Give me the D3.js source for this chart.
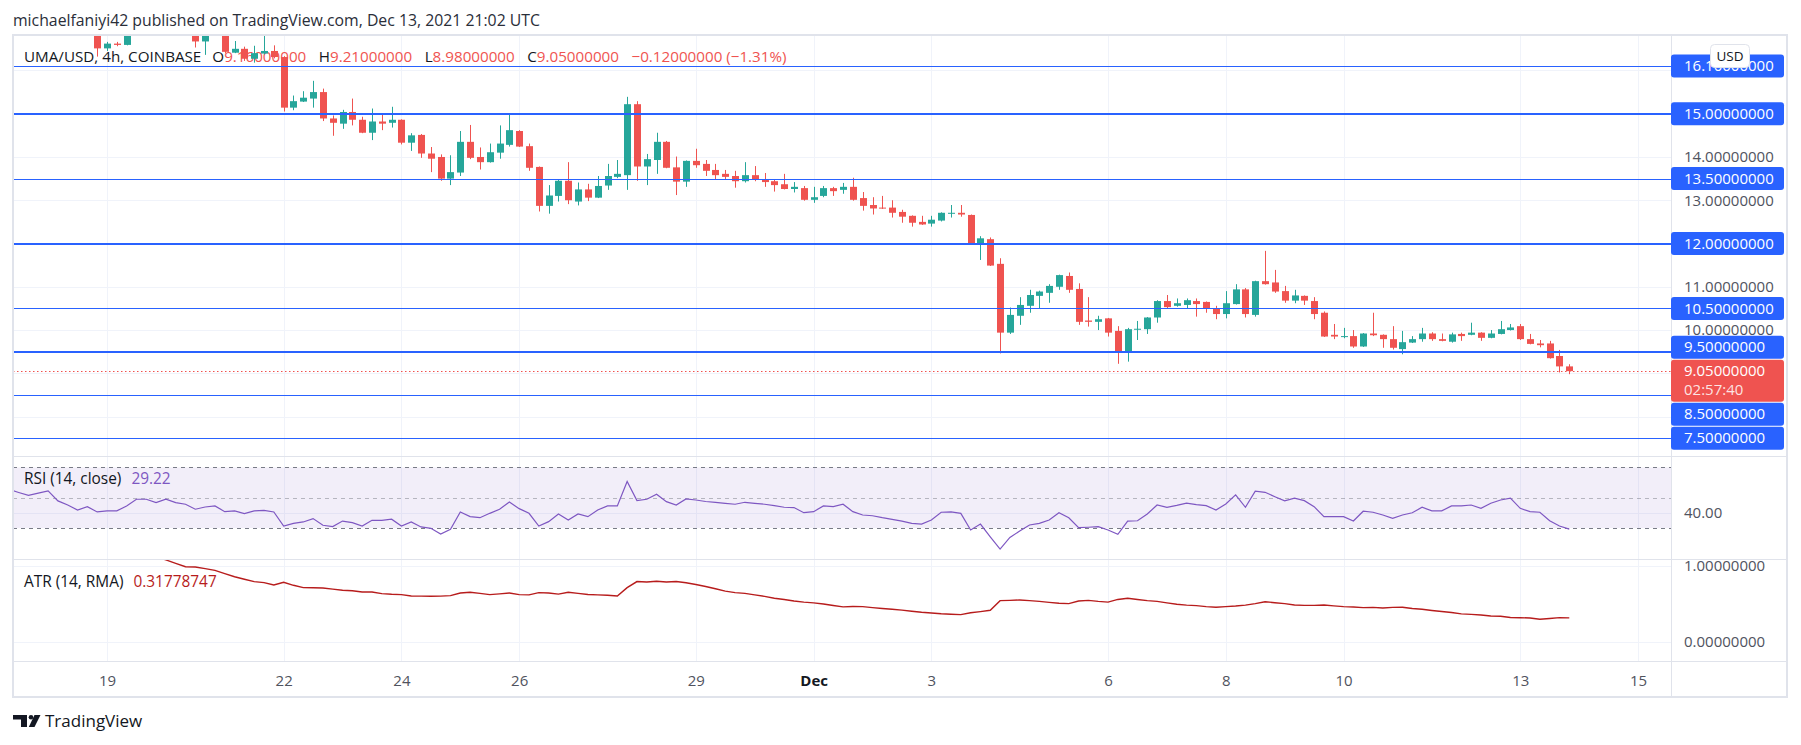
<!DOCTYPE html>
<html><head><meta charset="utf-8">
<script src="https://cdn.jsdelivr.net/npm/d3@7"></script>
<style>
html,body{margin:0;padding:0;background:#fff;}
svg{display:block;font-family:"Open Sans","Noto Sans",sans-serif;}
</style></head><body>
<svg id="c" width="1801" height="745"></svg>
<script>
// ---------------- DATA ----------------
const candleStart = "2021-11-18T20:00:00Z"; // 4h candles
const opens = [
16.85,16.51,16.62,16.59,16.85,17.05,17.00,16.95,17.05,16.95,
16.90,16.67,16.88,16.90,16.41,16.50,16.27,16.39,16.45,16.31,
15.14,15.28,15.35,15.50,14.89,14.77,15.04,14.86,14.56,14.82,
14.79,14.86,14.33,14.51,14.08,14.00,13.50,13.64,14.35,14.00,
13.88,14.10,14.28,14.60,14.25,13.77,12.87,13.10,13.45,12.97,
13.25,13.06,13.34,13.54,13.58,15.22,13.78,13.93,14.35,13.76,
13.43,13.91,13.84,13.70,13.61,13.56,13.44,13.58,13.49,13.44,
13.37,13.26,13.28,13.01,13.10,13.28,13.24,13.31,13.05,12.89,
12.83,12.83,12.73,12.64,12.50,12.46,12.53,12.69,12.71,12.66,
11.97,12.10,11.53,9.94,10.33,10.56,10.79,10.86,11.00,11.25,
10.95,10.22,10.19,10.27,9.98,9.50,10.01,10.02,10.29,10.67,
10.56,10.58,10.67,10.65,10.50,10.37,10.60,10.94,10.35,11.13,
11.10,10.90,10.68,10.79,10.67,10.40,9.89,9.84,9.86,9.62,
9.92,9.89,9.79,9.56,9.71,9.79,9.92,9.79,9.73,9.91,
9.89,9.94,9.82,9.91,10.00,10.09,9.79,9.69,9.69,9.40,
9.16];
const highs = [
16.95,16.66,16.66,16.90,17.15,17.20,17.10,17.15,17.10,17.05,
16.95,16.95,17.00,16.95,16.68,16.55,16.57,16.85,16.58,16.33,
15.42,15.52,15.76,15.58,14.96,15.09,15.35,14.93,15.12,15.00,
15.16,14.87,14.55,14.53,14.23,14.06,14.04,14.60,14.74,14.22,
14.31,14.73,15.00,14.62,14.31,13.78,13.35,13.48,13.88,13.41,
13.38,13.56,13.84,13.93,15.39,15.29,14.07,14.56,14.37,14.01,
13.92,14.19,13.93,13.84,13.70,13.68,13.88,13.79,13.63,13.49,
13.61,13.42,13.33,13.31,13.33,13.31,13.40,13.52,13.19,13.07,
13.10,13.00,12.78,12.65,12.64,12.64,12.72,12.89,12.89,12.67,
12.17,12.14,11.66,10.52,10.76,10.93,10.91,11.06,11.28,11.33,
11.08,10.76,10.33,10.28,10.09,10.05,10.21,10.30,10.69,10.81,
10.73,10.73,10.73,10.66,10.56,10.90,11.06,10.97,11.14,11.83,
11.39,11.02,10.93,10.80,10.76,10.43,10.14,10.05,10.00,9.93,
10.40,9.90,10.09,9.98,9.86,10.05,9.95,9.92,9.94,9.94,
10.17,9.95,10.00,10.21,10.14,10.14,9.91,9.77,9.75,9.54,
9.21];
const lows = [
16.32,16.45,16.56,16.58,16.82,16.90,16.85,16.88,16.85,16.82,
16.53,16.36,16.80,16.40,16.40,16.22,16.18,16.37,16.28,15.05,
15.08,15.27,15.14,14.83,14.49,14.65,14.73,14.55,14.39,14.62,
14.68,14.29,14.14,13.98,13.65,13.45,13.35,13.56,13.95,13.71,
13.87,13.96,14.24,14.23,13.68,12.74,12.69,12.97,12.91,12.88,
12.98,13.05,13.24,13.51,13.24,13.45,13.35,13.61,13.74,13.12,
13.31,13.75,13.56,13.49,13.49,13.29,13.41,13.44,13.31,13.20,
13.25,13.18,12.99,12.94,13.07,13.10,13.15,12.99,12.76,12.67,
12.80,12.60,12.48,12.39,12.43,12.39,12.51,12.60,12.62,11.98,
11.62,11.48,9.46,9.91,10.12,10.40,10.50,10.63,10.93,10.86,
10.12,10.08,10.00,9.85,9.22,9.27,9.77,9.91,10.17,10.50,
10.54,10.50,10.31,10.40,10.25,10.27,10.59,10.29,10.31,11.05,
10.86,10.63,10.62,10.58,10.25,9.84,9.79,9.81,9.59,9.61,
9.86,9.59,9.55,9.44,9.70,9.73,9.75,9.74,9.71,9.75,
9.88,9.75,9.81,9.90,9.99,9.77,9.67,9.60,9.34,9.02,
8.98];
const closes = [
16.51,16.62,16.59,16.85,17.05,17.00,16.95,17.05,16.95,16.90,
16.67,16.88,16.90,16.43,16.50,16.27,16.40,16.45,16.31,15.14,
15.29,15.37,15.50,14.89,14.79,15.04,14.86,14.56,14.82,14.77,
14.86,14.33,14.50,14.08,13.96,13.50,13.65,14.35,13.98,13.88,
14.11,14.31,14.62,14.24,13.75,12.87,13.11,13.45,13.00,13.25,
13.06,13.33,13.56,13.61,15.22,13.78,13.95,14.35,13.75,13.43,
13.91,13.81,13.68,13.58,13.54,13.44,13.58,13.49,13.42,13.35,
13.26,13.31,13.01,13.07,13.28,13.21,13.31,13.01,12.87,12.81,
12.81,12.71,12.62,12.48,12.44,12.55,12.71,12.71,12.67,12.00,
12.12,11.49,9.94,10.35,10.58,10.81,10.89,11.02,11.27,10.93,
10.19,10.19,10.25,9.94,9.50,10.02,10.03,10.29,10.67,10.53,
10.62,10.69,10.60,10.49,10.37,10.62,10.94,10.37,11.13,11.06,
10.89,10.68,10.80,10.68,10.37,9.85,9.85,9.86,9.62,9.92,
9.88,9.79,9.59,9.72,9.79,9.92,9.79,9.75,9.90,9.86,
9.94,9.82,9.92,10.02,10.06,9.79,9.68,9.65,9.35,9.16,
9.05];

const rsiStart = "2021-11-17T08:00:00Z";
const rsiValues = [
55.5,53.5,51.6,53.0,54.5,47.9,45.2,41.9,44.1,40.6,
41.3,41.3,44.6,49.0,49.0,46.8,49.0,46.8,45.7,42.4,
43.9,44.6,40.8,41.3,39.5,41.3,41.7,40.6,31.3,33.1,
34.0,36.2,31.8,30.9,34.6,33.5,31.3,35.1,35.1,35.8,
31.3,34.0,30.7,29.8,26.0,29.1,40.6,37.5,36.8,39.7,
42.4,47.2,42.8,39.7,31.3,34.2,39.3,35.3,39.3,37.5,
41.9,44.6,44.6,60.7,48.1,49.0,52.3,47.4,45.2,49.2,
48.5,47.5,47.0,46.3,45.7,47.0,46.3,45.7,44.8,43.7,
43.5,40.1,40.8,44.6,44.1,45.7,40.8,38.6,38.1,36.8,
35.7,34.5,33.1,32.6,35.3,40.4,40.6,39.7,28.7,32.6,
24.2,16.1,23.8,28.0,32.0,33.1,35.3,40.1,36.8,30.2,
30.5,30.9,28.7,25.8,34.6,34.8,39.3,45.2,43.7,44.9,
46.4,45.5,44.8,41.9,45.9,51.9,43.7,54.3,53.6,50.7,
47.9,49.7,48.1,44.1,37.5,37.5,37.5,34.6,41.1,40.4,
38.6,36.4,38.6,40.1,43.7,41.3,41.3,44.6,44.6,45.2,
43.0,46.4,48.5,49.7,43.0,40.8,40.4,34.8,31.3,29.22];
const rsiBands = [70, 50, 30];

const atrStart = "2021-11-19T20:00:00Z";
const atrValues = [
1.12,1.08,1.035,0.99,0.987,0.965,0.943,0.90,0.859,0.825,
0.794,0.781,0.750,0.785,0.746,0.715,0.713,0.711,0.695,0.680,
0.675,0.658,0.658,0.636,0.628,0.623,0.605,0.603,0.601,0.603,
0.610,0.645,0.654,0.640,0.623,0.633,0.645,0.623,0.620,0.650,
0.645,0.630,0.655,0.640,0.625,0.620,0.615,0.605,0.715,0.795,
0.790,0.800,0.790,0.795,0.780,0.756,0.730,0.700,0.670,0.650,
0.640,0.620,0.600,0.575,0.560,0.540,0.525,0.515,0.500,0.480,
0.462,0.468,0.465,0.452,0.440,0.430,0.420,0.405,0.392,0.382,
0.372,0.366,0.360,0.384,0.400,0.418,0.544,0.548,0.553,0.545,
0.535,0.522,0.509,0.505,0.540,0.548,0.535,0.525,0.560,0.575,
0.560,0.544,0.535,0.515,0.496,0.485,0.478,0.465,0.458,0.466,
0.474,0.485,0.505,0.530,0.517,0.505,0.487,0.482,0.482,0.487,
0.475,0.465,0.460,0.452,0.456,0.448,0.456,0.458,0.440,0.430,
0.415,0.402,0.388,0.370,0.364,0.356,0.342,0.338,0.322,0.320,
0.315,0.300,0.310,0.320,0.3178];

const levels = [16.1, 15, 13.5, 12, 10.5, 9.5, 8.5, 7.5];
const majorLevels = [15, 12, 9.5];
const lastPrice = 9.05;
const countdown = "02:57:40";
const priceTicks = [8, 9, 10, 11, 12, 13, 14, 15, 16];
const rsiTicks = [40];
const atrTicks = [0, 1];
const timeTickDates = ["2021-11-19","2021-11-22","2021-11-24","2021-11-26","2021-11-29","2021-12-01","2021-12-03","2021-12-06","2021-12-08","2021-12-10","2021-12-13","2021-12-15"];
const timeTickLabels = ["19","22","24","26","29","Dec","3","6","8","10","13","15"];
const headerText = "michaelfaniyi42 published on TradingView.com, Dec 13, 2021 21:02 UTC";
const symbolText = "UMA/USD, 4h, COINBASE";
const ohlcLegend = [["O","9.16000000"],["H","9.21000000"],["L","8.98000000"],["C","9.05000000"]];
const changeText = "\u22120.12000000 (\u22121.31%)";
const rsiLegend = ["RSI (14, close)", "29.22"];
const atrLegend = ["ATR (14, RMA)", "0.31778747"];

// ---------------- LAYOUT ----------------
const L = 13, R = 1671, AXR = 1787, T = 36, B = 697;
const mainB = 456, rsiB = 559, atrB = 661;
const UP = "#26a69a", DOWN = "#ef5350", BLUE = "#2962ff";
const TXT = "#131722", AXT = "#50535e", GRID = "#f0f3fa", BORDER = "#e0e3eb";
const FONT = "'Open Sans','Noto Sans',sans-serif";

const svg = d3.select("#c");
const H4 = 4 * 3600 * 1000;
const t0 = new Date(candleStart).getTime();
const candles = opens.map((o, i) => ({t: new Date(t0 + i * H4), o, h: highs[i], l: lows[i], c: closes[i]}));
const rsi = rsiValues.map((v, i) => ({t: new Date(new Date(rsiStart).getTime() + i * H4), v}));
const atr = atrValues.map((v, i) => ({t: new Date(new Date(atrStart).getTime() + i * H4), v}));

const x = d3.scaleUtc().domain([new Date("2021-11-19T00:00:00Z"), new Date("2021-12-15T00:00:00Z")]).range([107, 1638]);
const yP = d3.scaleLinear().domain([7.089, 16.796]).range([mainB, T]);
const yR = d3.scaleLinear().domain([9.5, 77.6]).range([rsiB, mainB]);
const yA = d3.scaleLinear().domain([-0.25, 1.092]).range([atrB, rsiB]);

const defs = svg.append("defs");
function clip(id, y0, y1) {
  defs.append("clipPath").attr("id", id).append("rect").attr("x", L).attr("y", y0).attr("width", R - L).attr("height", y1 - y0);
}
clip("cm", T, mainB); clip("cr", mainB, rsiB); clip("ca", rsiB, atrB);

svg.append("rect").attr("width", 1801).attr("height", 745).attr("fill", "#fff");

// header
svg.append("text").attr("x", 13).attr("y", 26).attr("font-size", 15.8).attr("fill", "#2a2e39").text(headerText);

// grid
const tickDates = timeTickDates.map(d => new Date(d + "T00:00:00Z"));
const grid = svg.append("g").attr("stroke", GRID).attr("stroke-width", 1);
grid.selectAll(".v").data(tickDates).join("line")
  .attr("x1", d => Math.round(x(d)) + 0.5).attr("x2", d => Math.round(x(d)) + 0.5)
  .attr("y1", T).attr("y2", atrB);
grid.selectAll(".h").data(priceTicks).join("line")
  .attr("x1", L).attr("x2", R).attr("y1", d => Math.round(yP(d)) + 0.5).attr("y2", d => Math.round(yP(d)) + 0.5);
grid.selectAll(".hr").data(rsiTicks).join("line")
  .attr("x1", L).attr("x2", R).attr("y1", d => Math.round(yR(d)) + 0.5).attr("y2", d => Math.round(yR(d)) + 0.5);
grid.selectAll(".ha").data(atrTicks).join("line")
  .attr("x1", L).attr("x2", R).attr("y1", d => Math.round(yA(d)) + 0.5).attr("y2", d => Math.round(yA(d)) + 0.5);

// main legend (drawn under candles)
const leg = svg.append("text").attr("x", 24).attr("y", 62).attr("font-size", 15.2).attr("fill", TXT);
leg.append("tspan").text(symbolText);
ohlcLegend.forEach(([k, v], i) => {
  leg.append("tspan").attr("dx", i === 0 ? 11 : 12.5).attr("fill", TXT).text(k);
  leg.append("tspan").attr("fill", DOWN).text(v);
});
leg.append("tspan").attr("dx", 12.5).attr("fill", DOWN).text(changeText);

// candles
const gm = svg.append("g").attr("clip-path", "url(#cm)");
const cg = gm.selectAll("g.c").data(candles).join("g");
cg.append("line")
  .attr("x1", d => Math.round(x(d.t)) + 0.5).attr("x2", d => Math.round(x(d.t)) + 0.5)
  .attr("y1", d => yP(d.h)).attr("y2", d => yP(d.l))
  .attr("stroke", d => d.c >= d.o ? UP : DOWN).attr("stroke-width", 1);
cg.append("rect")
  .attr("x", d => Math.round(x(d.t)) - 3).attr("width", 7)
  .attr("y", d => Math.min(yP(d.o), yP(d.c)))
  .attr("height", d => Math.max(1, Math.abs(yP(d.o) - yP(d.c))))
  .attr("fill", d => d.c >= d.o ? UP : DOWN);

// level lines
gm.selectAll("line.lv").data(levels).join("line")
  .attr("x1", L).attr("x2", R)
  .attr("y1", d => majorLevels.includes(d) ? Math.round(yP(d)) : Math.round(yP(d)) + 0.5)
  .attr("y2", d => majorLevels.includes(d) ? Math.round(yP(d)) : Math.round(yP(d)) + 0.5)
  .attr("stroke", BLUE).attr("stroke-width", d => majorLevels.includes(d) ? 2.2 : 1.2);
// last price dotted line
gm.append("line").attr("x1", L).attr("x2", R)
  .attr("y1", Math.round(yP(lastPrice)) + 0.5).attr("y2", Math.round(yP(lastPrice)) + 0.5)
  .attr("stroke", DOWN).attr("stroke-width", 1).attr("stroke-dasharray", "1.5,2.5");

// RSI pane
const gr = svg.append("g").attr("clip-path", "url(#cr)");
gr.append("rect").attr("x", L).attr("width", R - L)
  .attr("y", yR(rsiBands[0])).attr("height", yR(rsiBands[2]) - yR(rsiBands[0]))
  .attr("fill", "rgba(126,87,194,0.1)");
gr.selectAll("line.b").data(rsiBands).join("line")
  .attr("x1", L).attr("x2", R)
  .attr("y1", d => Math.round(yR(d)) + 0.5).attr("y2", d => Math.round(yR(d)) + 0.5)
  .attr("stroke", (d, i) => i === 1 ? "rgba(120,123,134,0.5)" : "#787b86")
  .attr("stroke-dasharray", "4,4");
gr.append("path").datum(rsi)
  .attr("d", d3.line().x(d => x(d.t)).y(d => yR(d.v)))
  .attr("fill", "none").attr("stroke", "#7e57c2").attr("stroke-width", 1.2);
const rl = svg.append("text").attr("x", 24).attr("y", 484).attr("font-size", 15.4).attr("fill", TXT);
rl.append("tspan").text(rsiLegend[0]);
rl.append("tspan").attr("dx", 10).attr("fill", "#7e57c2").text(rsiLegend[1]);

// ATR pane
const ga = svg.append("g").attr("clip-path", "url(#ca)");
ga.append("path").datum(atr)
  .attr("d", d3.line().x(d => x(d.t)).y(d => yA(d.v)))
  .attr("fill", "none").attr("stroke", "#b71c1c").attr("stroke-width", 1.4);
const al = svg.append("text").attr("x", 24).attr("y", 587).attr("font-size", 15.4).attr("fill", TXT);
al.append("tspan").text(atrLegend[0]);
al.append("tspan").attr("dx", 10).attr("fill", "#b71c1c").text(atrLegend[1]);

// separators and frame
const sep = svg.append("g").attr("stroke", BORDER).attr("stroke-width", 1);
[mainB, rsiB, atrB].forEach(y => sep.append("line").attr("x1", L).attr("x2", AXR).attr("y1", y + 0.5).attr("y2", y + 0.5));
sep.append("line").attr("x1", R + 0.5).attr("x2", R + 0.5).attr("y1", T).attr("y2", B);
svg.append("rect").attr("x", L).attr("y", T - 1).attr("width", AXR - L).attr("height", B - T + 1)
  .attr("fill", "none").attr("stroke", BORDER).attr("stroke-width", 2);

// axes
function styleAxis(g) {
  g.select(".domain").remove();
  g.selectAll("text").attr("font-size", 15).attr("fill", AXT).attr("font-family", FONT);
}
svg.append("g").attr("transform", `translate(${R},0)`)
  .call(d3.axisRight(yP).tickValues(priceTicks).tickFormat(d3.format(".8f")).tickSize(0).tickPadding(13)).call(styleAxis);
svg.append("g").attr("transform", `translate(${R},0)`)
  .call(d3.axisRight(yR).tickValues(rsiTicks).tickFormat(d3.format(".2f")).tickSize(0).tickPadding(13)).call(styleAxis);
svg.append("g").attr("transform", `translate(${R},0)`)
  .call(d3.axisRight(yA).tickValues(atrTicks).tickFormat(d3.format(".8f")).tickSize(0).tickPadding(13)).call(styleAxis);
const xa = svg.append("g").attr("transform", `translate(0,${atrB})`)
  .call(d3.axisBottom(x).tickValues(tickDates).tickFormat((d, i) => timeTickLabels[i]).tickSize(0).tickPadding(14)).call(styleAxis);
xa.selectAll("text").filter((d, i) => isNaN(+timeTickLabels[i])).attr("font-weight", "bold").attr("fill", TXT);

// price labels with collision handling
const BH = 23, GAP = 1;
const yc = yP(lastPrice);
const curTop = yc - 11.5, curBot = yc + 30.5;
const labs = levels.map(v => ({v, c: yP(v)}));
labs.filter(l => l.c <= yc).sort((a, b) => b.c - a.c).reduce((lim, l) => {
  if (l.c + BH / 2 > lim - GAP) l.c = lim - GAP - BH / 2;
  return l.c - BH / 2;
}, curTop);
labs.filter(l => l.c > yc).sort((a, b) => a.c - b.c).reduce((lim, l) => {
  if (l.c - BH / 2 < lim + GAP) l.c = lim + GAP + BH / 2;
  return l.c + BH / 2;
}, curBot);
const lg = svg.append("g");
lg.selectAll("rect").data(labs).join("rect")
  .attr("x", R).attr("width", 113).attr("y", d => d.c - BH / 2).attr("height", BH).attr("rx", 3).attr("fill", BLUE);
lg.selectAll("text").data(labs).join("text")
  .attr("x", 1684).attr("y", d => d.c).attr("dy", "0.35em").attr("font-size", 15).attr("fill", "#fff")
  .text(d => d3.format(".8f")(d.v));
lg.append("rect").attr("x", R).attr("width", 113).attr("y", curTop).attr("height", curBot - curTop).attr("rx", 3).attr("fill", DOWN);
lg.append("text").attr("x", 1684).attr("y", yc).attr("dy", "0.35em").attr("font-size", 15).attr("fill", "#fff").text(d3.format(".8f")(lastPrice));
lg.append("text").attr("x", 1684).attr("y", yc + 19).attr("dy", "0.35em").attr("font-size", 15).attr("fill", "#fff").attr("fill-opacity", 0.85).text(countdown);

// USD button
svg.append("rect").attr("x", 1710.5).attr("y", 44.5).attr("width", 39).attr("height", 23).attr("rx", 4)
  .attr("fill", "#fff").attr("stroke", BORDER);
svg.append("text").attr("x", 1730).attr("y", 56).attr("dy", "0.35em").attr("text-anchor", "middle")
  .attr("font-size", 13.5).attr("fill", TXT).text("USD");

// TradingView logo
const logo = svg.append("g").attr("fill", TXT);
logo.append("path").attr("d", "M13,715 H27 V727 H21 V719.5 H13 Z");
logo.append("circle").attr("cx", 31).attr("cy", 717.3).attr("r", 2.3);
logo.append("path").attr("d", "M34.5,715 H40.5 L34.5,727 H28.8 Z");
svg.append("text").attr("x", 45).attr("y", 727).attr("font-size", 17).attr("font-weight", 500).attr("fill", TXT).text("TradingView");
</script>
</body></html>
